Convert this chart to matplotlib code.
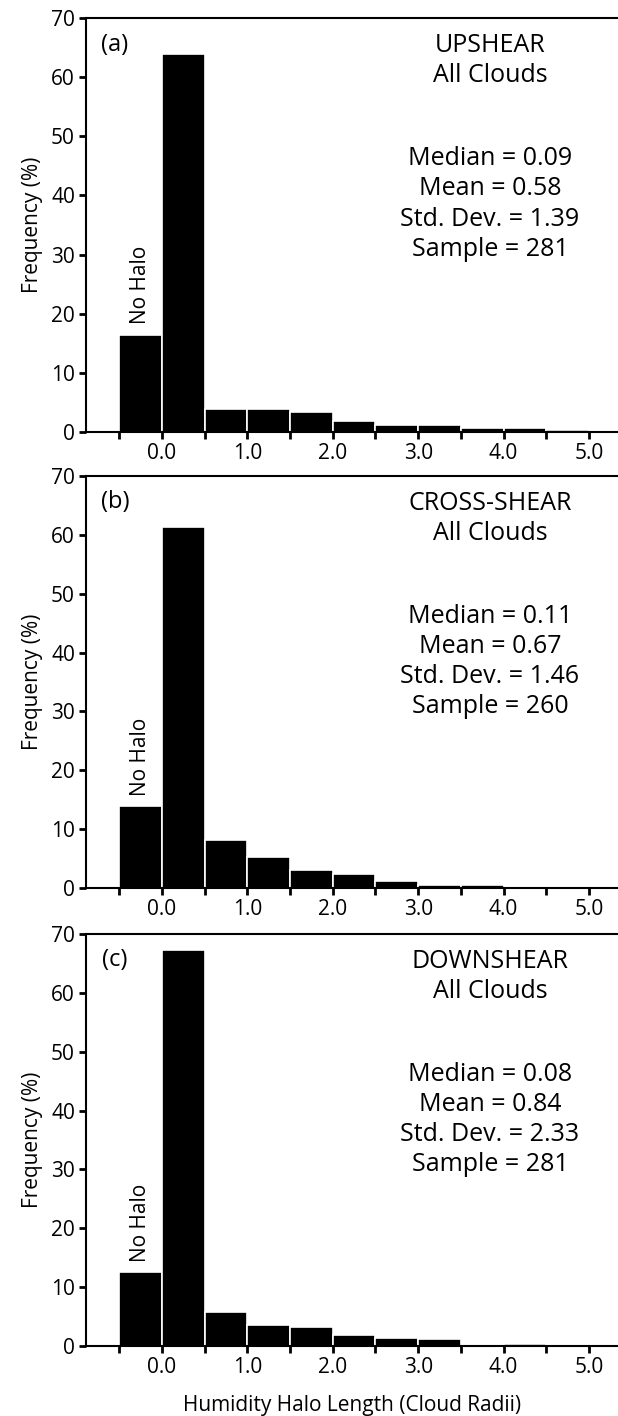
import matplotlib
matplotlib.use("Agg")
import matplotlib.pyplot as plt
import numpy as np

plt.rcParams['font.family'] = ['Open Sans', 'DejaVu Sans']

# bin left edges: first is "No Halo" bin, then 0.5-wide halo-length bins
bin_edges = [-0.5, 0.0, 0.5, 1.0, 1.5, 2.0, 2.5, 3.0, 3.5, 4.0, 4.5]
bin_width = 0.5

upshear = [16.4, 63.9, 3.9, 3.9, 3.4, 1.9, 1.2, 1.2, 0.7, 0.7, 0.4]
crossshear = [13.9, 61.4, 8.2, 5.3, 3.0, 2.4, 1.2, 0.45, 0.45, 0.0, 0.0]
downshear = [12.5, 67.2, 5.8, 3.5, 3.2, 1.9, 1.3, 1.2, 0.0, 0.4, 0.0]

panel_labels = ['(a)', '(b)', '(c)']
titles = ['UPSHEAR', 'CROSS-SHEAR', 'DOWNSHEAR']
subtitle = 'All Clouds'
medians = ['0.09', '0.11', '0.08']
means = ['0.58', '0.67', '0.84']
stds = ['1.39', '1.46', '2.33']
samples = ['281', '260', '281']

xtick_pos = [-0.5, 0.0, 0.5, 1.0, 1.5, 2.0, 2.5, 3.0, 3.5, 4.0, 4.5, 5.0]
xtick_labels = ['', '0.0', '', '1.0', '', '2.0', '', '3.0', '', '4.0', '', '5.0']
yticks = [0, 10, 20, 30, 40, 50, 60, 70]

W, H = 618, 1416
fig = plt.figure(figsize=(W / 100, H / 100), dpi=100)

panels = [(18, 432), (476, 888), (934, 1346)]
left_px = 86
series = [upshear, crossshear, downshear]

for i, ((top, bot), vals) in enumerate(zip(panels, series)):
    ax = fig.add_axes([left_px / W, 1 - bot / H, 1 - left_px / W, (bot - top) / H])
    ax.bar(bin_edges, vals, width=bin_width, align='edge', color='black',
           edgecolor='white', linewidth=1.2)
    ax.set_xlim(-0.89, 5.34)
    ax.set_ylim(0, 70)
    ax.spines['right'].set_visible(False)
    for s in ['left', 'top', 'bottom']:
        ax.spines[s].set_linewidth(1.5)
    ax.set_xticks(xtick_pos)
    ax.set_xticklabels(xtick_labels)
    ax.set_yticks(yticks)
    ax.tick_params(axis='both', direction='out', length=5, width=2, labelsize=15, pad=3)
    ax.set_ylabel('Frequency (%)', fontsize=15, labelpad=6)
    ax.text(-0.25, vals[0] + 1.8, 'No Halo', rotation=90, ha='center', va='bottom', fontsize=15)
    ax.text(-0.55, 65.5, panel_labels[i], ha='center', va='center', fontsize=17)
    cx = 3.84
    fs = 18
    ax.text(cx, 65.3, titles[i], ha='center', va='center', fontsize=fs)
    ax.text(cx, 60.2, subtitle, ha='center', va='center', fontsize=fs)
    ax.text(cx, 46.2, 'Median = ' + medians[i], ha='center', va='center', fontsize=fs)
    ax.text(cx, 41.1, 'Mean = ' + means[i], ha='center', va='center', fontsize=fs)
    ax.text(cx, 36.0, 'Std. Dev. = ' + stds[i], ha='center', va='center', fontsize=fs)
    ax.text(cx, 30.9, 'Sample = ' + samples[i], ha='center', va='center', fontsize=fs)
    if i == 2:
        ax.set_xlabel('Humidity Halo Length (Cloud Radii)', fontsize=15, labelpad=12)

fig.savefig('out.png', dpi=100)
